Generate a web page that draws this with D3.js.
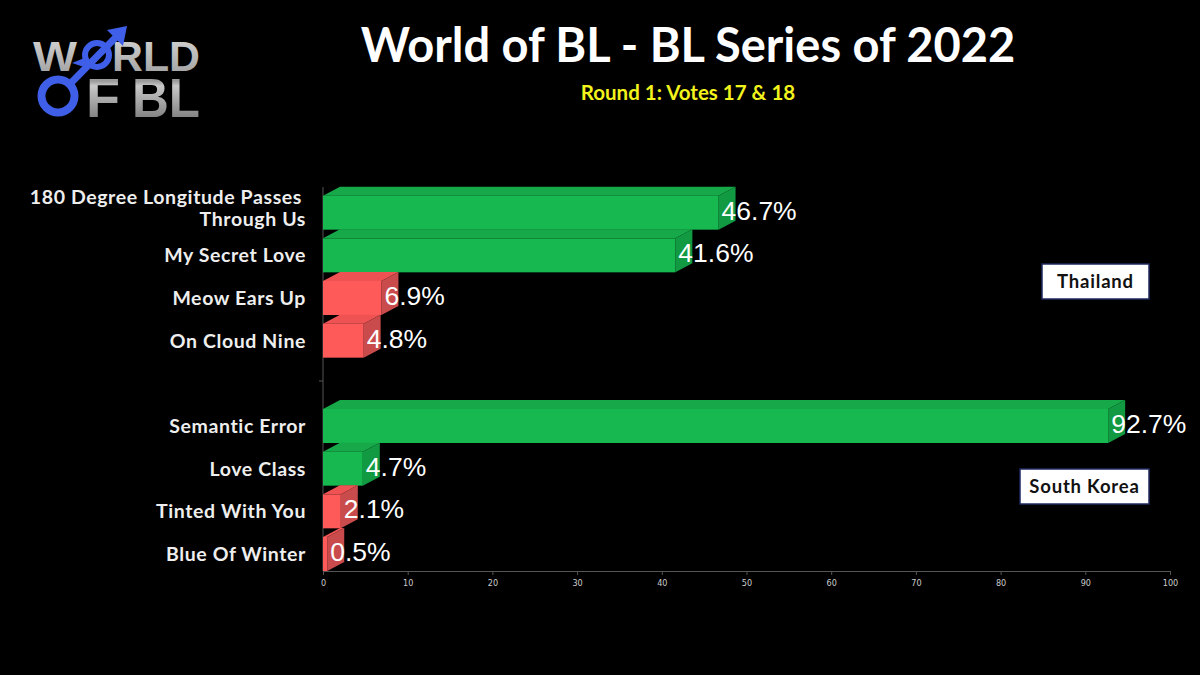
<!DOCTYPE html>
<html>
<head>
<meta charset="utf-8">
<script src="https://cdn.jsdelivr.net/npm/d3@7"></script>
<style>
  html, body { margin: 0; padding: 0; background: #000; }
  svg { display: block; }
</style>
</head>
<body>
<div id="chart"></div>
<script>
// data
const categories = ["180 Degree Longitude Passes|Through Us", "My Secret Love", "Meow Ears Up", "On Cloud Nine", "",
  "Semantic Error", "Love Class", "Tinted With You", "Blue Of Winter"];
const values = [46.7, 41.6, 6.9, 4.8, null, 92.7, 4.7, 2.1, 0.5];
const advances = [true, true, false, false, null, true, true, false, false];
const groups = ["Thailand", "South Korea"];
const xTicks = [0, 10, 20, 30, 40, 50, 60, 70, 80, 90, 100];

const width = 1200, height = 675;
const margin = { top: 187, right: 30, bottom: 104, left: 323 };

const svg = d3.select("#chart").append("svg").attr("width", width).attr("height", height);
svg.append("rect").attr("width", width).attr("height", height).attr("fill", "#000");

const x = d3.scaleLinear().domain([0, 100]).range([margin.left, 1170]);
const y = d3.scaleBand().domain(d3.range(categories.length)).range([margin.top, height - margin.bottom]).padding(0);

const bw = y.bandwidth();
const dx = 17, dy = 9;
const green = { front: "#17b84f", top: "#16a849", side: "#129a42" };
const red = { front: "#ff5a5a", top: "#ee5252", side: "#c94b4b" };

// axes
const xAxis = svg.append("g")
  .attr("transform", `translate(0,${height - margin.bottom})`)
  .call(d3.axisBottom(x).tickValues(xTicks).tickSize(4).tickPadding(5));
xAxis.select(".domain").attr("stroke", "#555");
xAxis.selectAll(".tick line").attr("stroke", "#555");
xAxis.selectAll(".tick text").attr("fill", "#ccc").style("font-family", "'DejaVu Sans Condensed', 'Liberation Sans', sans-serif").style("font-size", "9px");

svg.append("line")
  .attr("x1", x(0)).attr("x2", x(0))
  .attr("y1", margin.top).attr("y2", height - margin.bottom)
  .attr("stroke", "#555");
svg.append("line")
  .attr("x1", x(0) - 4).attr("x2", x(0))
  .attr("y1", y(4) + bw / 2 + 2).attr("y2", y(4) + bw / 2 + 2)
  .attr("stroke", "#555");

// bars
const bars = values.map((v, i) => ({ v, i, adv: advances[i] })).filter(d => d.v !== null);
const g = svg.append("g");
bars.forEach(d => {
  const c = d.adv ? green : red;
  const x0 = x(0), x1 = x(d.v);
  const fb = y(d.i) + bw, ft = fb - 34;
  const bar = g.append("g");
  bar.append("polygon")
    .attr("points", [[x0, ft], [x0 + dx, ft - dy], [x1 + dx, ft - dy], [x1, ft]].join(" "))
    .attr("fill", c.top);
  bar.append("polygon")
    .attr("points", [[x1, ft], [x1 + dx, ft - dy], [x1 + dx, fb - dy], [x1, fb]].join(" "))
    .attr("fill", c.side);
  bar.append("rect")
    .attr("x", x0).attr("y", ft).attr("width", x1 - x0).attr("height", fb - ft)
    .attr("fill", c.front);
  bar.append("text")
    .attr("x", x1 + 3).attr("y", ft + 24)
    .attr("fill", "#fff")
    .style("font-family", "'Liberation Sans', Arial, sans-serif")
    .style("font-size", "26.5px")
    .text(d.v.toFixed(1) + "%");
});

// category labels
categories.forEach((c, i) => {
  if (!c) return;
  const lines = c.split("|");
  const cy = y(i) + bw - 17;
  const t = svg.append("text")
    .attr("text-anchor", "end")
    .attr("fill", "#eee")
    .style("font-family", "Lato, sans-serif")
    .style("font-weight", "bold")
    .style("font-size", "19.5px")
    .style("letter-spacing", "0.6px");
  lines.forEach((ln, k) => {
    t.append("tspan")
      .attr("x", lines.length > 1 && k === 0 ? 302 : 306)
      .attr("y", cy + 7 + (lines.length > 1 ? -5 : 0) + (k - (lines.length - 1) / 2) * 22)
      .text(ln);
  });
});

// country boxes
const boxes = [
  { name: groups[0], x: 1042, y: 264, w: 107, h: 35 },
  { name: groups[1], x: 1020, y: 469, w: 129, h: 35 }
];
boxes.forEach(b => {
  svg.append("rect").attr("x", b.x).attr("y", b.y).attr("width", b.w).attr("height", b.h)
    .attr("fill", "#fff").attr("stroke", "#1f2a60").attr("stroke-width", 1.5);
  svg.append("text").attr("x", b.x + b.w / 2).attr("y", b.y + b.h / 2 + 6)
    .attr("text-anchor", "middle").attr("fill", "#111")
    .style("font-family", "Lato, sans-serif").style("font-weight", "bold").style("font-size", "18.5px")
    .style("letter-spacing", "0.8px")
    .text(b.name);
});

// title
svg.append("text").attr("x", 688).attr("y", 62).attr("text-anchor", "middle")
  .attr("fill", "#fff").style("font-family", "Lato, sans-serif").style("font-weight", "bold")
  .style("font-size", "47px").text("World of BL - BL Series of 2022");
svg.append("text").attr("x", 688).attr("y", 100).attr("text-anchor", "middle")
  .attr("fill", "#f2f21c").style("font-family", "Lato, sans-serif").style("font-weight", "bold")
  .style("font-size", "20.5px").text("Round 1: Votes 17 & 18");

// logo
const defs = svg.append("defs");
const grad = defs.append("linearGradient").attr("id", "silver").attr("x1", 0).attr("y1", 0).attr("x2", 0).attr("y2", 1);
grad.append("stop").attr("offset", "0%").attr("stop-color", "#d8d8d8");
grad.append("stop").attr("offset", "50%").attr("stop-color", "#9a9a9a");
grad.append("stop").attr("offset", "55%").attr("stop-color", "#c8c8c8");
grad.append("stop").attr("offset", "100%").attr("stop-color", "#6a6a6a");
const logo = svg.append("g");
const logoText = logo.append("text").attr("fill", "url(#silver)")
  .style("font-family", "'Liberation Sans', Arial, sans-serif").style("font-weight", "bold");
[
  { t: "W", x: 33, y: 71, s: 42, w: 44 },
  { t: "RLD", x: 112, y: 71, s: 42, w: 88 },
  { t: "F", x: 86, y: 117, s: 55, w: 34 },
  { t: "BL", x: 132, y: 117, s: 55, w: 68 }
].forEach(p => {
  logoText.append("tspan").attr("x", p.x).attr("y", p.y)
    .style("font-size", p.s + "px")
    .attr("textLength", p.w).attr("lengthAdjust", "spacingAndGlyphs")
    .text(p.t);
});
const blue = "#3f5fe8";
logo.append("line").attr("x1", 68).attr("y1", 86).attr("x2", 120).attr("y2", 33)
  .attr("stroke", blue).attr("stroke-width", 7);
logo.append("circle").attr("cx", 58).attr("cy", 96).attr("r", 16.5)
  .attr("fill", "none").attr("stroke", blue).attr("stroke-width", 8);
logo.append("circle").attr("cx", 97).attr("cy", 55).attr("r", 12)
  .attr("fill", "none").attr("stroke", blue).attr("stroke-width", 6);
logo.append("polygon").attr("points", "127,26 107,30 123,46").attr("fill", blue);
logo.append("polygon").attr("points", "72,63 87,57 84,67").attr("fill", blue);
</script>
</body>
</html>
